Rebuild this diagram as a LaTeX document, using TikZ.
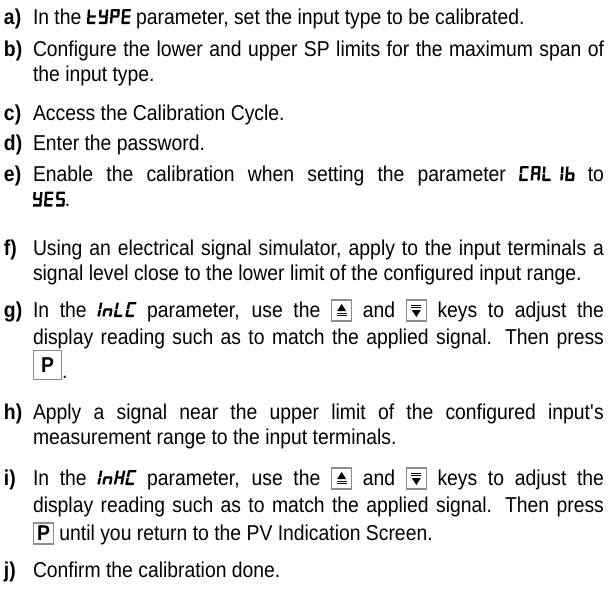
\documentclass[tikz,border=0pt]{standalone}
\usepackage{fontspec}
\setmainfont{Liberation Sans}[FakeStretch=0.9]
\usepackage{tikz}
\usetikzlibrary{positioning}
\hyphenpenalty=10000
\exhyphenpenalty=10000
\tolerance=9999

% segments of the display letters
\tikzset{
  seg a/.style={insert path={(0.6,12.6) rectangle (8.4,15)}},
  seg b/.style={insert path={(6.6,7.9) rectangle (9,14.4)}},
  seg c/.style={insert path={(6.6,0.6) rectangle (9,7.1)}},
  seg d/.style={insert path={(0.6,0) rectangle (8.4,2.4)}},
  seg e/.style={insert path={(0,0.6) rectangle (2.4,7.1)}},
  seg f/.style={insert path={(0,7.9) rectangle (2.4,14.4)}},
  seg g/.style={insert path={(0.6,6.3) rectangle (8.4,8.7)}},
  seg z/.style={},
  keyframe/.style={draw=black!45, line width=1.1pt, fill=white}
}
\newcommand{\defdsp}[2]{\expandafter\def\csname dsp-#1\endcsname{#2}}
\defdsp{t}{d,e,f,g}
\defdsp{Y}{b,c,d,f,g}
\defdsp{P}{a,b,e,f,g}
\defdsp{E}{a,d,e,f,g}
\defdsp{C}{a,d,e,f}
\defdsp{A}{a,b,c,e,f,g}
\defdsp{L}{d,e,f}
\defdsp{I}{b,c}
\defdsp{b}{c,d,e,f,g}
\defdsp{S}{a,c,d,f,g}
\defdsp{n}{c,e,g}
\defdsp{H}{b,c,e,f,g}
\defdsp{-}{z}
\newcommand{\dsp}[2][xslant=0.08]{\tikz[baseline=0pt,x=1pt,y=1pt,#1]{%
  \foreach \ch [count=\i from 0] in {#2} {\edef\segs{\csname dsp-\ch\endcsname}%
    \foreach \s in \segs {\edef\segpath{\noexpand\fill[xshift=\i*11.5,seg \s];}\segpath}}}}

% keys
\newcommand{\upkey}{\tikz[baseline=4pt,x=1pt,y=1pt]{\draw[keyframe] (0,0) rectangle (20,21);
  \fill (10,17) -- (5.5,10) -- (14.5,10) -- cycle;
  \draw[line width=0.8pt] (5,7.6) -- (15,7.6) (5,5.2) -- (15,5.2);}}
\newcommand{\downkey}{\tikz[baseline=4pt,x=1pt,y=1pt]{\draw[keyframe] (0,0) rectangle (20,21);
  \fill (10,4) -- (5.5,11) -- (14.5,11) -- cycle;
  \draw[line width=0.8pt] (5,13.4) -- (15,13.4) (5,15.8) -- (15,15.8);}}
\newcommand{\pkey}{\tikz[baseline=4pt,x=1pt,y=1pt]{\draw[keyframe] (0,0) rectangle (20,21);
  \pgftext[at={\pgfpoint{10pt}{10.5pt}}]{\bfseries P}}}
\newcommand{\bigpkey}{\tikz[baseline=1pt,x=1pt,y=1pt]{\draw[keyframe] (0,0) rectangle (28,29);
  \pgftext[at={\pgfpoint{14pt}{14.5pt}}]{\bfseries P}}}

\begin{document}
\begin{tikzpicture}[x=1pt,y=1pt]
\tikzstyle{every node}=[inner sep=0pt, outer sep=0pt, font=\fontsize{21.5}{25.5}\selectfont]
\tikzstyle{lbl}=[anchor=base west, font=\fontsize{21.5}{25.5}\selectfont\bfseries]
\tikzstyle{txt}=[anchor=base west, text width=571pt, align=justify]
\tikzstyle{keytxt}=[txt, font=\fontsize{21.5}{27.5}\selectfont]
\useasboundingbox (0,0) rectangle (614,-600);

\node[lbl] (la) at (4,-24) {a)};
\node[txt] (ta) at (33,-24) {In the \dsp{t,Y,P,E} parameter, set the input type to be calibrated.};

\node[lbl] (lb) at (4,-56) {b)};
\node[txt] (tb) at (33,-56) {Configure the lower and upper SP limits for the maximum span of\linebreak the input type.};

\node[lbl] (lc) at (4,-120) {c)};
\node[txt] (tc) at (33,-120) {Access the Calibration Cycle.};

\node[lbl] (ld) at (4,-150) {d)};
\node[txt] (td) at (33,-150) {Enter the password.};

\node[lbl] (le) at (4,-181) {e)};
\node[txt] (te) at (33,-181) {Enable the calibration when setting the parameter \dsp{C,A,L,I,b} to\linebreak \dsp{Y,E,S}.};

\node[lbl] (lf) at (4,-255) {f)};
\node[txt] (tf) at (33,-255) {Using an electrical signal simulator, apply to the input terminals a\linebreak signal level close to the lower limit of the configured input range.};

\node[lbl] (lg) at (4,-317) {g)};
\node[keytxt] (tg) at (33,-317) {In the \dsp[xslant=0.2]{I,n,L,C} parameter, use the \upkey{} and \downkey{} keys to adjust the\linebreak display reading such as to match the applied signal. Then press\linebreak \bigpkey.};

\node[lbl] (lh) at (4,-419) {h)};
\node[txt] (th) at (33,-419) {Apply a signal near the upper limit of the configured input\textquotesingle s\linebreak measurement range to the input terminals.};

\node[lbl] (li) at (4,-485) {i)};
\node[keytxt] (ti) at (33,-485) {In the \dsp[xslant=0.2]{I,n,H,C} parameter, use the \upkey{} and \downkey{} keys to adjust the\linebreak display reading such as to match the applied signal. Then press\linebreak \pkey{} until you return to the PV Indication Screen.};

\node[lbl] (lj) at (4,-577) {j)};
\node[txt] (tj) at (33,-577) {Confirm the calibration done.};

\end{tikzpicture}
\end{document}
